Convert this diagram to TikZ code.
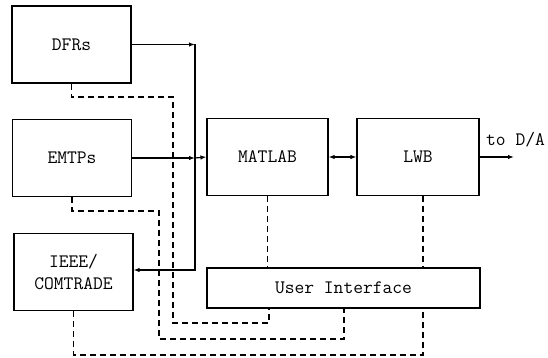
\documentclass[tikz,border=0pt]{standalone}
\usetikzlibrary{arrows.meta,calc}
\begin{document}
\begin{tikzpicture}[x=1pt,y=-1pt,
  lab/.style={font=\ttfamily\fontsize{19}{22}\selectfont},
  blk/.style={draw,line width=1.2pt,minimum width=119pt,minimum height=77pt,inner sep=0pt,align=center,lab},
  sline/.style={line width=1.2pt},
  dline/.style={line width=1.2pt,dash pattern=on 6pt off 4pt},
  tip/.style={-{Latex[length=6pt,width=4.5pt]}}]
\useasboundingbox (0,0) rectangle (548,358);
\node[blk] (DFRs) at (71.5,44.5) {DFRs};
\node[blk] (EMTPs) at (72,158) {EMTPs};
\node[blk] (IEEE) at (73.5,272) {IEEE/\\COMTRADE};
\node[blk,minimum width=121pt] (MATLAB) at (267.5,157) {MATLAB};
\node[blk,minimum width=122pt] (LWB) at (418,157) {LWB};
\node[blk,minimum width=273pt,minimum height=40pt] (UI) at (343.5,288) {User Interface};
\node[lab,inner sep=0pt,anchor=west] (DA) at (486,140) {to D/A};
\coordinate (c1) at (195,44.5);
\coordinate (c2) at (195,270);
\coordinate (c3) at (195,158);
\coordinate (out) at (514,157);
% solid connectors
\draw[sline,tip] (DFRs.east) -- (c1);
\draw[sline,tip] (c1) -- (c2) -- (IEEE.east |- c2);
\draw[sline,tip] (EMTPs.east) -- (c3);
\draw[sline,tip] (c3) -- (MATLAB.west);
\draw[sline,{Latex[length=6pt,width=4.5pt]}-{Latex[length=6pt,width=4.5pt]}] (MATLAB.east) -- (LWB.west);
\draw[sline,tip] (LWB.east) -- (out);
% dashed connectors
\draw[dline] (DFRs.south) |- (173,97) |- (269,323) -- (UI.south -| 269,0);
\draw[dline] (EMTPs.south) |- (159,211) |- (344,339) -- (UI.south -| 344,0);
\draw[dline] (IEEE.south) |- (423,355) -- (UI.south -| 423,0);
\draw[dline] (MATLAB.south) -- (UI.north -| MATLAB.south);
\draw[dline] (LWB.south -| 423,0) -- (UI.north -| 423,0);
\end{tikzpicture}
\end{document}
